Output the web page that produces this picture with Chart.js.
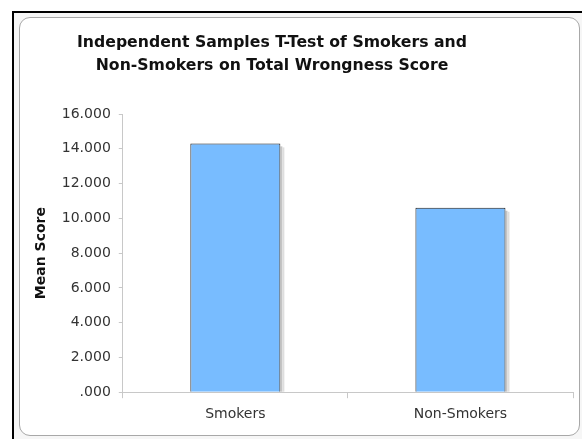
<!DOCTYPE html>
<html>
<head>
<meta charset="utf-8">
<script src="https://cdn.jsdelivr.net/npm/chart.js@4"></script>
<style>
  html, body { margin: 0; padding: 0; background: #ffffff; }
  #wrap { position: relative; width: 582px; height: 439px; overflow: hidden; }
  #outer { position: absolute; left: 12px; top: 11px; width: 600px; height: 460px;
           border-left: 2px solid #000; border-top: 2px solid #000; background: #f6f6f6; box-sizing: border-box; }
  #panel { position: absolute; left: 19px; top: 17px; width: 561px; height: 419px;
           border: 1px solid #a8a8a8; border-radius: 11px; background: #ffffff; box-sizing: border-box; }
  canvas { position: absolute; left: 0; top: 0; }
</style>
</head>
<body>
<div id="wrap">
  <div id="outer"></div>
  <div id="panel"></div>
  <canvas id="c" width="582" height="439" style="width:582px;height:439px"></canvas>
</div>
<script>
const categories = ["Smokers", "Non-Smokers"];
const meanScores = [14.31, 10.61];
const titleLines = ["Independent Samples T-Test of Smokers and", "Non-Smokers on Total Wrongness Score"];
const yAxisTitle = "Mean Score";

const FONT = "'DejaVu Sans', Verdana, sans-serif";

const titlePlugin = {
  id: 'customTitle',
  afterDraw(chart) {
    const ctx = chart.ctx;
    ctx.save();
    ctx.font = "bold 15.7px " + FONT;
    ctx.fillStyle = "#111";
    ctx.textAlign = "center";
    ctx.textBaseline = "middle";
    ctx.fillText(titleLines[0], 272, 43);
    ctx.fillText(titleLines[1], 272, 66);
    ctx.restore();
  }
};

const shadowPlugin = {
  id: 'barShadow',
  beforeDatasetsDraw(chart) {
    const ctx = chart.ctx;
    ctx.save();
    chart.getDatasetMeta(0).data.forEach(bar => {
      const p = bar.getProps(['x', 'y', 'base', 'width'], true);
      const right = p.x + p.width / 2;
      const top = Math.min(p.y, p.base) + 3;
      const bottom = Math.max(p.y, p.base);
      ctx.fillStyle = "#c4c4c4";
      ctx.fillRect(right, top, 2, bottom - top);
      ctx.fillStyle = "#dedede";
      ctx.fillRect(right + 2, top + 1, 2, bottom - top - 1);
    });
    ctx.restore();
  }
};

new Chart(document.getElementById('c'), {
  type: 'bar',
  data: {
    labels: categories,
    datasets: [{
      data: meanScores,
      backgroundColor: "#78bcff",
      borderColor: "#1e1e1e",
      borderWidth: 1,
      barPercentage: 0.4,
      categoryPercentage: 1.0
    }]
  },
  options: {
    responsive: false,
    animation: false,
    devicePixelRatio: 1,
    layout: { padding: { left: 29, right: 9, top: 114, bottom: 8 } },
    plugins: { legend: { display: false }, title: { display: false }, tooltip: { enabled: false } },
    scales: {
      x: {
        grid: { display: true, drawOnChartArea: false, offset: true, tickLength: 6, color: "#c8c8c8" },
        border: { color: "#c8c8c8" },
        ticks: { font: { family: FONT, size: 14 }, color: "#333", padding: 8 }
      },
      y: {
        min: 0, max: 16,
        ticks: { stepSize: 2, font: { family: FONT, size: 14 }, color: "#333", padding: 8,
                 callback: v => v.toFixed(3).replace(/^0\./, '.') },
        grid: { display: true, drawOnChartArea: false, tickLength: 4, color: "#c8c8c8" },
        border: { color: "#c8c8c8" },
        title: { display: true, text: yAxisTitle, font: { family: FONT, size: 14, weight: 'bold' }, color: "#111" }
      }
    }
  },
  plugins: [shadowPlugin, titlePlugin]
});
</script>
</body>
</html>
